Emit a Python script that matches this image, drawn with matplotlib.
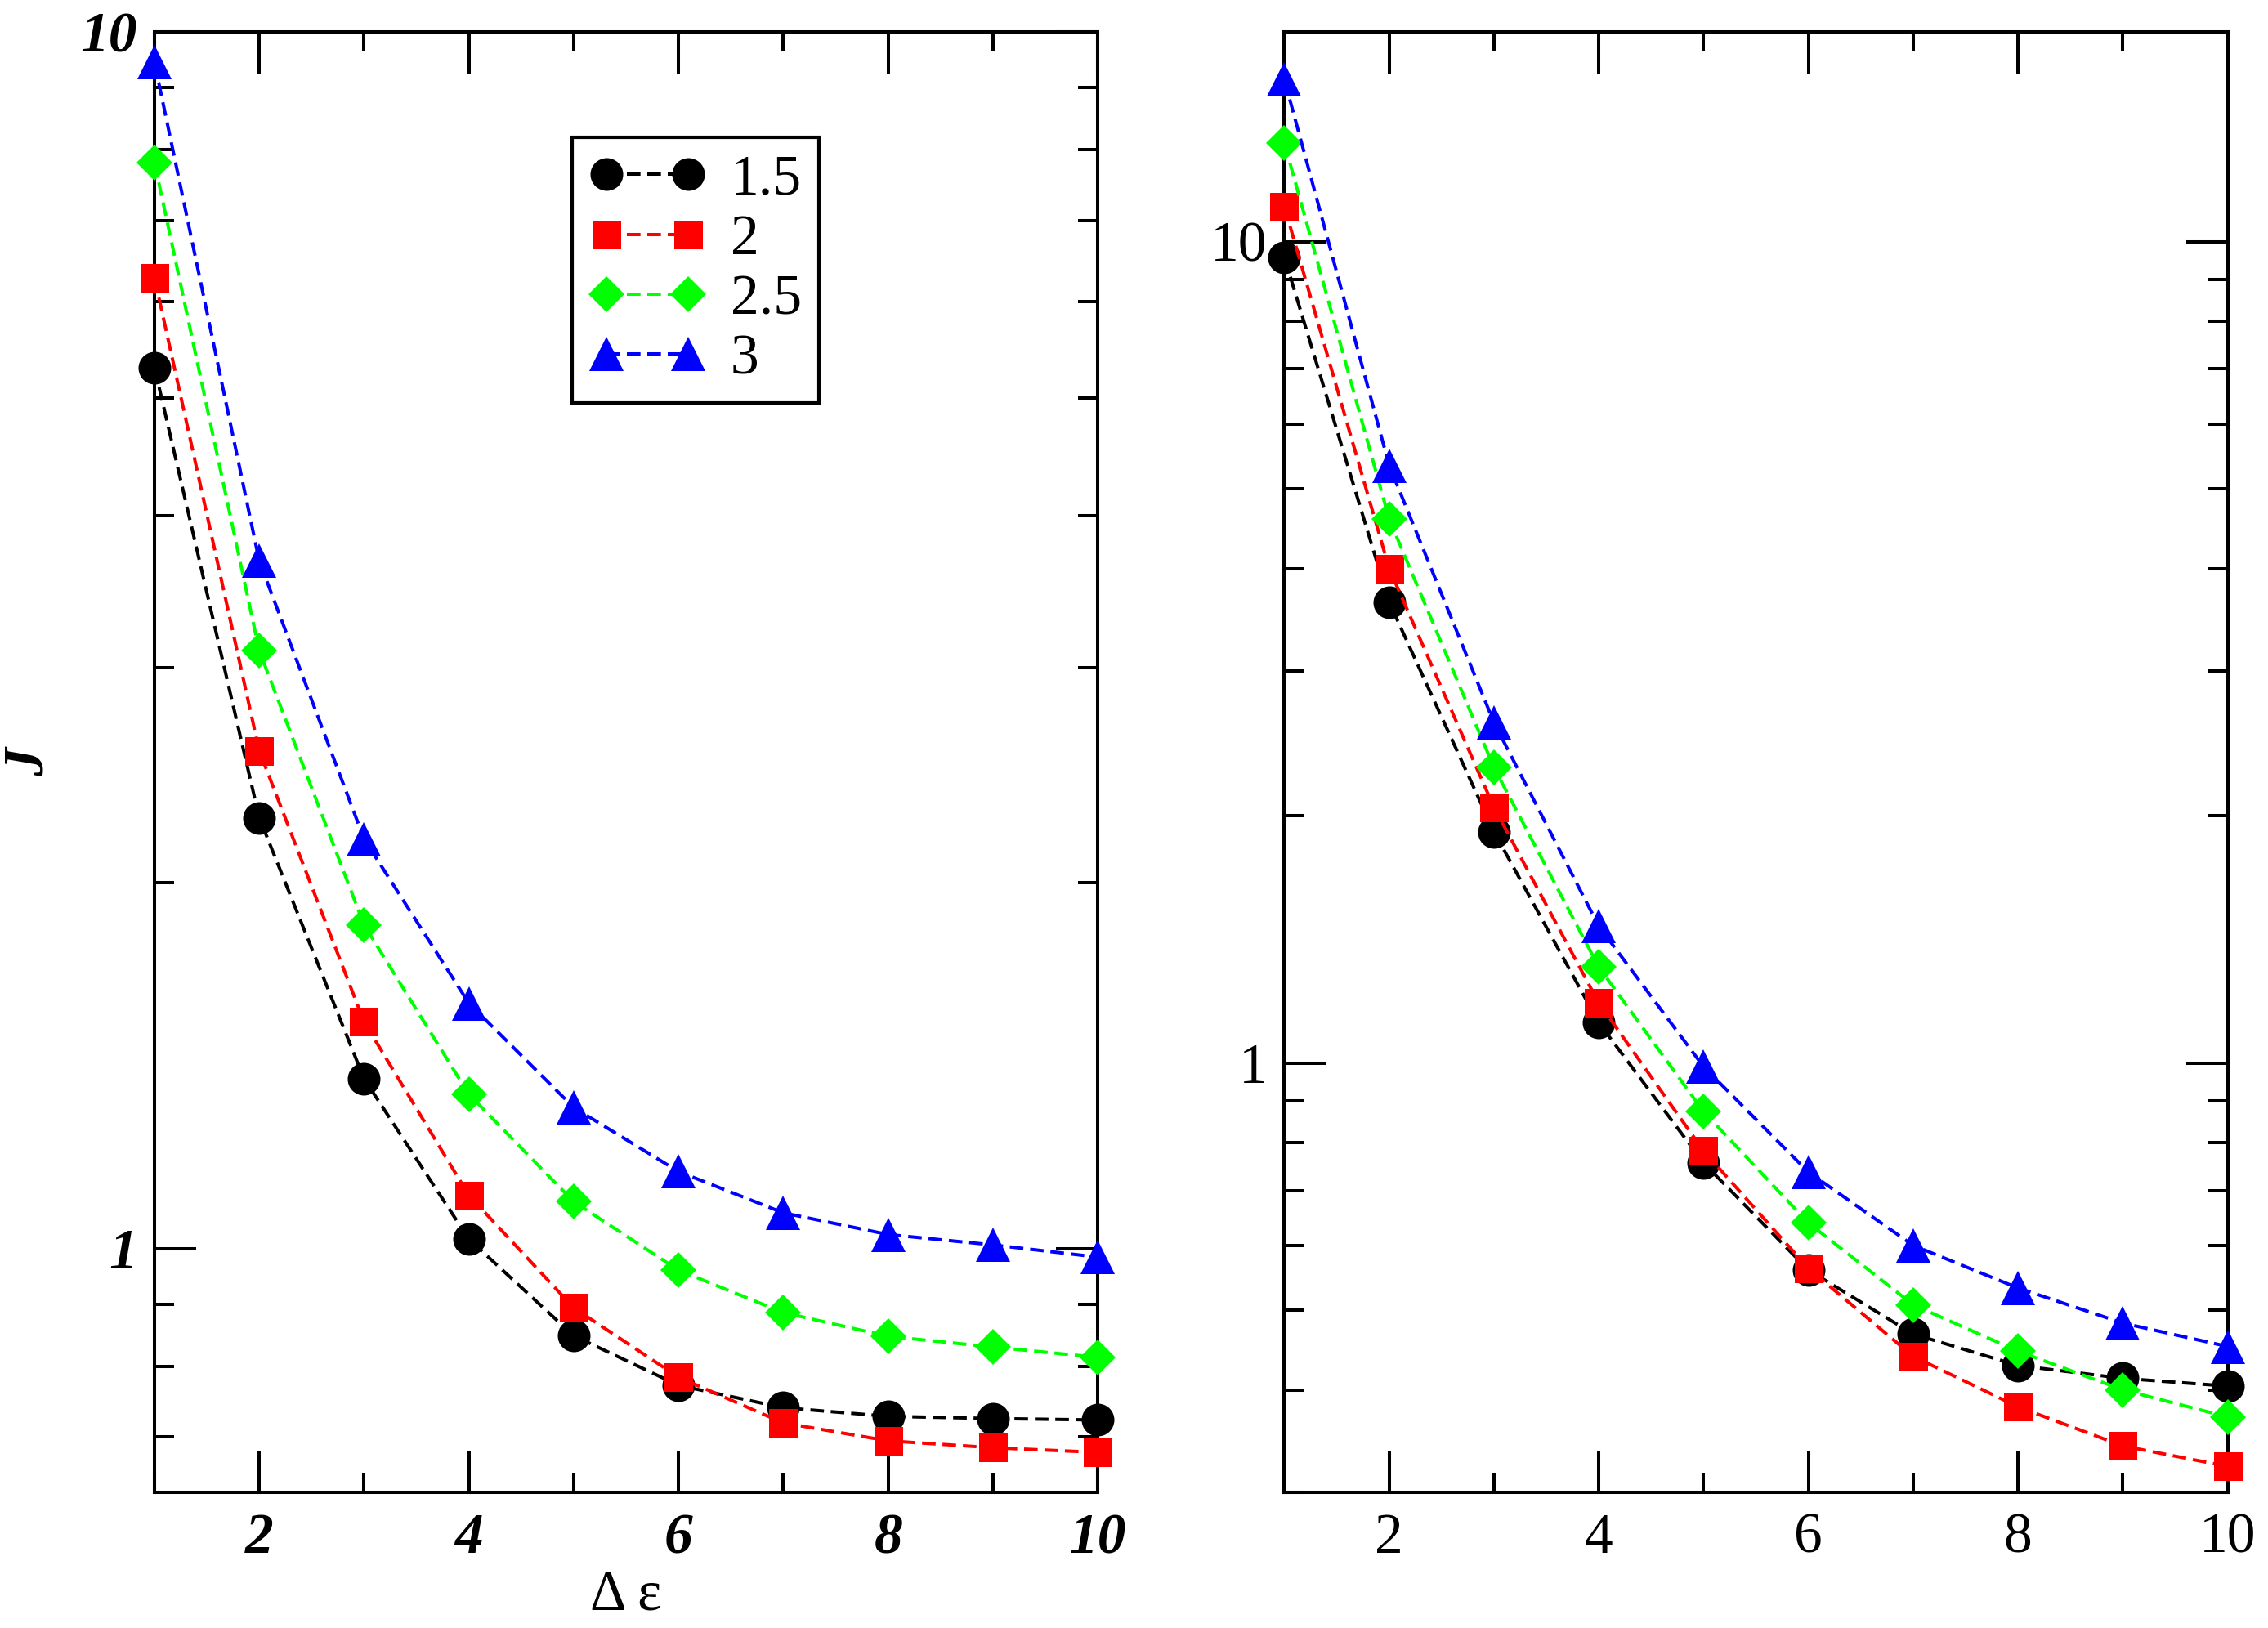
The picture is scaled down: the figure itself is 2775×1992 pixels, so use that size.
import matplotlib
matplotlib.use("Agg")
import matplotlib.pyplot as plt
from matplotlib.ticker import FixedLocator, MultipleLocator, LogLocator, NullFormatter, FuncFormatter

plt.rcParams['font.family'] = ['Liberation Serif', 'DejaVu Serif']
plt.rcParams['lines.scale_dashes'] = False

x = [1, 2, 3, 4, 5, 6, 7, 8, 9, 10]
labels = ["1.5", "2", "2.5", "3"]

# left panel
left_15 = [5.30, 2.26, 1.379, 1.018, 0.848, 0.772, 0.740, 0.728, 0.725, 0.723]
left_2 = [6.28, 2.565, 1.536, 1.106, 0.894, 0.784, 0.719, 0.695, 0.686, 0.680]
left_25 = [7.81, 3.10, 1.845, 1.339, 1.093, 0.960, 0.886, 0.847, 0.830, 0.814]
left_3 = [9.44, 3.674, 2.171, 1.591, 1.306, 1.157, 1.070, 1.027, 1.007, 0.984]

# right panel
right_15 = [9.57, 3.64, 1.913, 1.12, 0.756, 0.560, 0.468, 0.4285, 0.4134, 0.4045]
right_2 = [11.03, 4.00, 2.048, 1.184, 0.782, 0.5626, 0.4396, 0.3817, 0.342, 0.323]
right_25 = [13.18, 4.595, 2.29, 1.309, 0.873, 0.639, 0.508, 0.446, 0.4003, 0.371]
right_3 = [15.75, 5.34, 2.597, 1.468, 0.99, 0.737, 0.60, 0.5325, 0.4826, 0.452]

colors = ['#000000', '#ff0000', '#00ff00', '#0000ff']
markers = ['o', 's', 'D', '^']
msizes = [28.8, 25.2, 21.9, 30]

FS = 50

fig = plt.figure(figsize=(27.75, 19.92), dpi=100)
axL = fig.add_axes([0.0681, 0.0831, 0.484 - 0.0681, 0.9804 - 0.0831])
axR = fig.add_axes([0.5663, 0.0831, 0.9822 - 0.5663, 0.9804 - 0.0831])

def draw(ax, series, ylim, bold):
    for ys, c, m, ms, lab in zip(series, colors, markers, msizes, labels):
        ax.plot(x, ys, linestyle=(0, (12, 6)), lw=2.9, color=c, marker=m,
                markersize=ms, markeredgewidth=0, label=lab, clip_on=False, zorder=3)
    ax.set_yscale('log')
    ax.set_xlim(1, 10)
    ax.set_ylim(*ylim)
    ax.xaxis.set_major_locator(FixedLocator([2, 4, 6, 8, 10]))
    ax.xaxis.set_minor_locator(MultipleLocator(1))
    ax.yaxis.set_major_locator(LogLocator(base=10))
    ax.yaxis.set_minor_locator(LogLocator(base=10, subs=[2, 3, 4, 5, 6, 7, 8, 9]))
    ax.yaxis.set_minor_formatter(NullFormatter())
    ax.yaxis.set_major_formatter(FuncFormatter(lambda v, p: f"{v:g}"))
    ax.tick_params(which='both', direction='in', top=True, right=True, width=2.9)
    ax.tick_params(which='major', length=37)
    ax.tick_params(which='minor', length=17.5)
    ax.tick_params(axis='x', which='major', pad=18, labelsize=FS)
    ax.tick_params(axis='y', which='major', pad=15, labelsize=FS)
    for sp in ax.spines.values():
        sp.set_linewidth(2.9)
    if bold:
        for t in ax.get_xticklabels() + ax.get_yticklabels():
            t.set_fontweight('bold')
            t.set_fontstyle('italic')

draw(axL, [left_15, left_2, left_25, left_3], (0.63, 10), True)
draw(axR, [right_15, right_2, right_25, right_3], (0.3, 18), False)

axL.set_xlabel("Δ ε", fontsize=FS, labelpad=4)
axL.set_ylabel("J", fontsize=FS, fontweight='bold', fontstyle='italic', labelpad=22)

leg = axL.legend(loc='upper left', bbox_to_anchor=(0.4428, 0.9278), borderaxespad=0,
                 fontsize=FS, numpoints=2, handlelength=2.05, handletextpad=0.44,
                 borderpad=0.3, labelspacing=0.14, fancybox=False, framealpha=1,
                 edgecolor='black')
leg.get_frame().set_linewidth(3)

fig.savefig("out.png", dpi=100)
